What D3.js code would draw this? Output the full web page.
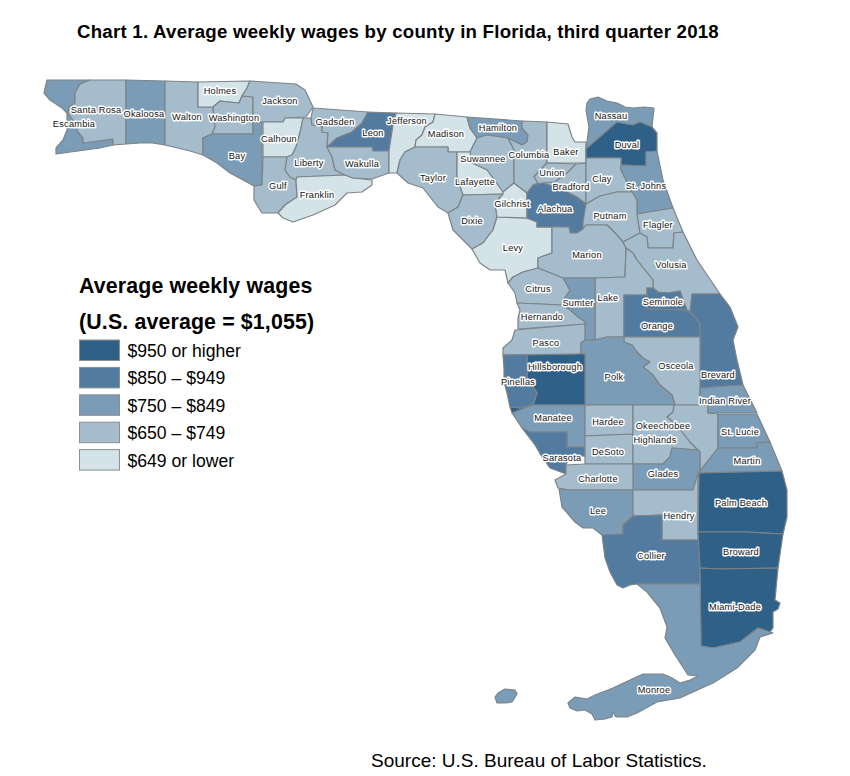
<!DOCTYPE html>
<html>
<head>
<meta charset="utf-8">
<script src="https://cdn.jsdelivr.net/npm/d3@7"></script>
<style>
  body { margin: 0; background: #fff; }
  text { font-family: "Liberation Sans", Arial, sans-serif; fill: #000; }
  .county { stroke: #7d8488; stroke-width: 1.2; stroke-linejoin: round; }
  .county-label { font-size: 9.2px; letter-spacing: 0.25px; text-anchor: middle; dominant-baseline: central;
    stroke: #fff; stroke-width: 2.8; stroke-linejoin: round; paint-order: stroke; fill: #111; }
</style>
</head>
<body>
<script>
const width = 850;
const height = 776;

// wage bands, darkest first
const bandLabels = ['$950 or higher', '$850 \u2013 $949', '$750 \u2013 $849', '$650 \u2013 $749', '$649 or lower'];
const bandColors = ['#2e6088', '#537b9f', '#7b9cb7', '#a4bccc', '#d3e3e8'];

const countyNames = [
  'Escambia', 'Santa Rosa', 'Okaloosa', 'Walton', 'Holmes', 'Washington', 'Bay', 'Jackson', 'Calhoun', 'Gulf',
  'Liberty', 'Franklin', 'Gadsden', 'Leon', 'Wakulla', 'Jefferson', 'Madison', 'Taylor', 'Hamilton', 'Suwannee',
  'Lafayette', 'Dixie', 'Levy', 'Gilchrist', 'Columbia', 'Baker', 'Union', 'Bradford', 'Nassau', 'Duval',
  'Clay', 'St. Johns', 'Alachua', 'Putnam', 'Flagler', 'Marion', 'Volusia', 'Lake', 'Citrus', 'Sumter',
  'Hernando', 'Pasco', 'Seminole', 'Orange', 'Brevard', 'Osceola', 'Polk', 'Hillsborough', 'Pinellas', 'Manatee',
  'Sarasota', 'Hardee', 'DeSoto', 'Highlands', 'Okeechobee', 'Indian River', 'St. Lucie', 'Martin', 'Glades', 'Charlotte',
  'Lee', 'Hendry', 'Collier', 'Palm Beach', 'Broward', 'Miami-Dade', 'Monroe'
];

// band index per county, same order as countyNames
const countyBands = [
  2, 3, 2, 3, 4, 3, 2, 3, 4, 3,
  3, 4, 3, 1, 3, 4, 4, 3, 2, 3,
  4, 3, 4, 4, 3, 4, 3, 3, 2, 0,
  3, 2, 1, 3, 3, 3, 3, 3, 3, 2,
  3, 3, 1, 1, 1, 3, 2, 0, 1, 2,
  1, 3, 3, 3, 3, 2, 2, 2, 2, 3,
  2, 3, 1, 0, 0, 0, 2
];

// county outlines, same order as countyNames
const countyOutlines = [
  [[[47,80],[90,80],[80,84],[75,93],[75,103],[69,107],[68,113],[73,120],[78,132],[83,138],[83,143],[113,139],[113,145],[100,148],[56,154],[56,148],[63,140],[67,130],[67,113],[62,108],[50,100],[44,93]]],
  [[[90,80],[126,80],[126,144],[113,145],[113,139],[83,143],[83,138],[78,132],[73,120],[68,113],[69,107],[75,103],[75,93],[80,84]]],
  [[[126,80],[165,81],[165,145],[152,143],[140,143],[126,144]]],
  [[[165,81],[198,82],[198,107],[213,107],[215,127],[212,134],[203,138],[203,155],[190,151],[165,145]]],
  [[[198,82],[250,81],[247,88],[242,96],[239,103],[220,101],[213,107],[198,107]]],
  [[[220,101],[239,103],[242,96],[253,97],[253,134],[213,134],[203,138],[212,134],[215,127],[213,107]]],
  [[[203,138],[213,134],[253,134],[253,122],[262,122],[262,185],[254,186],[243,180],[230,173],[217,163],[203,155]]],
  [[[250,81],[296,84],[305,90],[313,107],[306,117],[285,118],[283,122],[253,122],[253,97],[242,96],[247,88]]],
  [[[263,122],[283,122],[285,118],[303,118],[300,133],[296,147],[292,155],[287,157],[263,157]]],
  [[[263,157],[287,157],[285,170],[290,177],[296,180],[297,197],[285,205],[278,213],[262,213],[254,200],[254,186],[262,185]]],
  [[[303,118],[311,118],[312,125],[322,126],[322,132],[328,133],[327,147],[332,157],[335,170],[345,175],[297,177],[296,180],[290,177],[285,170],[287,157],[292,155],[296,147],[300,133]]],
  [[[297,177],[345,175],[353,178],[372,180],[372,185],[362,192],[347,193],[335,205],[313,215],[293,222],[283,218],[278,213],[285,205],[297,197],[296,180]]],
  [[[313,108],[368,112],[362,123],[352,132],[337,138],[327,147],[328,133],[322,132],[322,126],[312,125],[311,118]]],
  [[[368,112],[396,113],[393,125],[389,151],[373,151],[372,147],[327,147],[337,138],[352,132],[362,123]]],
  [[[327,147],[372,147],[373,151],[389,151],[389,173],[372,179],[353,178],[345,175],[335,170],[332,157]]],
  [[[396,113],[435,114],[433,122],[425,127],[422,135],[416,140],[415,147],[405,152],[400,160],[397,173],[389,173],[389,151],[393,125]]],
  [[[435,114],[467,117],[470,128],[477,138],[470,152],[448,152],[448,147],[415,147],[416,140],[422,135],[425,127],[433,122]]],
  [[[415,147],[448,147],[448,152],[457,152],[457,177],[463,195],[458,207],[448,213],[438,207],[430,197],[423,188],[408,183],[397,173],[400,160],[405,152]]],
  [[[467,117],[522,121],[522,128],[528,135],[527,142],[522,145],[508,138],[487,135],[477,138],[470,128]]],
  [[[477,138],[487,135],[508,138],[514,150],[514,183],[503,192],[487,170],[472,163],[470,152]]],
  [[[457,152],[470,152],[472,163],[487,170],[503,192],[503,194],[463,195],[457,177]]],
  [[[463,195],[503,194],[495,203],[497,217],[493,230],[483,243],[472,249],[463,240],[453,230],[448,213],[458,207]]],
  [[[497,217],[527,218],[537,222],[537,227],[552,227],[552,253],[538,258],[538,268],[523,272],[513,277],[508,283],[505,270],[490,270],[480,263],[472,249],[483,243],[493,230]]],
  [[[503,192],[514,183],[527,193],[527,218],[497,217],[495,203],[503,194]]],
  [[[522,121],[547,122],[547,163],[540,170],[534,177],[538,183],[527,193],[514,183],[514,150],[508,138],[522,145],[527,142],[528,135],[522,128]]],
  [[[547,122],[568,124],[572,137],[575,142],[586,142],[586,163],[547,163]]],
  [[[534,177],[540,170],[547,163],[576,164],[568,172],[555,182],[543,183],[533,185],[538,183]]],
  [[[576,164],[586,163],[586,204],[577,197],[567,192],[555,187],[543,183],[555,182],[568,172]]],
  [[[587,103],[590,99],[598,97],[607,101],[617,103],[625,107],[633,108],[644,107],[654,108],[652,127],[640,122],[633,125],[617,122],[586,149],[589,127],[586,110]]],
  [[[586,149],[617,122],[626,124],[633,125],[640,122],[652,127],[657,133],[657,151],[646,152],[646,166],[621,165],[621,158],[586,158]]],
  [[[586,158],[621,158],[621,170],[625,178],[632,192],[617,192],[600,196],[586,204]]],
  [[[621,165],[646,166],[646,152],[657,151],[663,180],[673,208],[637,214],[637,200],[632,192],[625,178],[621,170]]],
  [[[527,193],[533,185],[543,183],[555,187],[567,192],[577,197],[586,204],[583,222],[583,229],[577,233],[570,233],[569,227],[537,227],[537,222],[527,218]]],
  [[[586,204],[600,196],[617,192],[632,192],[637,200],[637,214],[640,233],[623,242],[615,233],[607,225],[586,225],[583,229],[583,222]]],
  [[[637,214],[673,208],[683,232],[674,233],[673,248],[648,248],[647,237],[640,233]]],
  [[[552,227],[569,227],[570,233],[577,233],[583,229],[586,225],[607,225],[615,233],[623,242],[626,248],[625,277],[595,278],[563,278],[538,268],[538,258],[552,253]]],
  [[[623,242],[640,233],[647,237],[648,248],[673,248],[674,233],[683,232],[697,260],[720,294],[692,294],[690,312],[687,310],[683,300],[680,291],[668,293],[658,292],[653,288],[653,280],[645,270],[637,260],[633,253],[626,248]]],
  [[[626,248],[633,253],[637,260],[645,270],[653,280],[653,288],[647,288],[647,295],[624,295],[624,337],[607,337],[595,340],[595,278],[625,277]]],
  [[[508,283],[513,277],[523,272],[538,268],[563,278],[570,290],[565,298],[562,305],[517,303],[515,293]]],
  [[[563,278],[595,278],[595,340],[585,340],[585,322],[578,317],[570,310],[562,305],[565,298],[570,290]]],
  [[[517,303],[562,305],[570,310],[578,317],[585,322],[585,324],[518,329],[518,318],[520,310]]],
  [[[515,330],[585,324],[585,340],[581,343],[581,354],[503,355],[503,348],[512,340]]],
  [[[647,295],[647,288],[653,288],[658,292],[668,293],[680,291],[683,300],[687,310],[647,309]]],
  [[[624,295],[647,295],[647,309],[687,310],[693,315],[700,323],[700,337],[624,337]]],
  [[[692,294],[720,294],[730,307],[738,327],[733,340],[737,360],[743,385],[700,388],[700,323],[693,315],[690,312]]],
  [[[624,337],[700,337],[700,405],[675,405],[672,395],[660,385],[653,375],[643,367],[650,362],[643,358],[637,352],[632,345],[624,342]]],
  [[[581,343],[585,340],[595,340],[607,337],[624,337],[624,342],[632,345],[637,352],[643,358],[650,362],[643,367],[653,375],[660,385],[672,395],[675,405],[585,405],[585,354],[581,354]]],
  [[[527,355],[581,354],[585,354],[585,405],[533,405],[537,393],[527,377]],
   [[510,407],[520,408],[533,405],[512,413]]],
  [[[503,355],[527,355],[527,377],[537,393],[533,405],[520,408],[510,407],[507,393],[504,382],[504,368]]],
  [[[512,413],[533,405],[585,405],[585,447],[567,447],[567,432],[530,432],[522,428]]],
  [[[522,428],[530,432],[567,432],[567,447],[585,447],[585,456],[569,457],[566,465],[566,474],[550,468],[542,457],[535,445]]],
  [[[585,405],[633,405],[633,434],[585,436]]],
  [[[585,436],[633,434],[633,464],[585,464]]],
  [[[633,405],[674,405],[673,412],[667,417],[677,425],[690,442],[698,450],[672,448],[670,457],[663,464],[633,464]]],
  [[[674,405],[708,405],[708,413],[718,414],[718,448],[700,471],[700,452],[698,450],[690,442],[677,425],[667,417],[673,412]]],
  [[[700,388],[743,385],[757,413],[708,413],[708,405],[700,405]]],
  [[[718,414],[757,414],[770,442],[757,443],[757,448],[718,448]]],
  [[[700,471],[718,448],[757,448],[757,443],[770,442],[782,471],[699,473]]],
  [[[633,464],[663,464],[670,457],[672,448],[698,450],[700,452],[700,471],[693,490],[633,490]]],
  [[[566,465],[585,464],[633,464],[633,490],[570,490],[558,488],[555,480],[566,474]]],
  [[[559,489],[570,490],[633,490],[633,516],[623,525],[623,534],[602,535],[593,528],[583,528],[575,522],[562,507]]],
  [[[633,490],[693,490],[698,473],[698,540],[662,540],[662,515],[633,516]]],
  [[[602,535],[623,534],[623,525],[633,516],[662,515],[662,540],[700,540],[700,584],[637,584],[630,585],[623,588],[617,585],[610,572],[605,558]]],
  [[[699,473],[782,471],[787,490],[787,517],[783,534],[747,532],[698,532]]],
  [[[698,532],[747,532],[783,534],[778,568],[718,569],[700,568]]],
  [[[700,568],[718,569],[778,568],[775,600],[780,603],[778,609],[773,612],[773,628],[770,632],[758,628],[740,642],[713,648],[701,646]]],
  [[[637,584],[700,584],[701,646],[713,648],[740,642],[758,628],[773,633],[760,637],[755,650],[737,668],[713,683],[693,692],[680,698],[657,702],[637,713],[627,717],[616,717],[613,712],[612,717],[605,719],[595,720],[592,714],[585,710],[577,711],[570,708],[568,703],[575,697],[587,699],[595,695],[613,688],[630,680],[643,674],[663,674],[672,678],[680,683],[690,680],[698,676],[688,675],[675,655],[665,638],[667,627],[660,608],[647,592]],
   [[495,697],[498,693],[505,689],[515,690],[517,694],[512,702],[505,703],[497,703]]]
];

// label centres in page pixels, same order as countyNames
const labelX = [
  74, 96, 144, 187, 220, 234, 237, 280, 279, 278,
  309, 317, 335, 373, 362, 407, 446, 433, 498, 483,
  475, 472, 513, 512, 529, 566, 552, 571, 611, 627,
  602, 646, 555, 610, 658, 587, 671, 608, 538, 578,
  542, 546, 663, 657, 718, 676, 614, 555, 518, 553,
  562, 608, 608, 655, 663, 725, 740, 747, 663, 598,
  598, 679, 651, 741, 741, 735, 654
];
const labelY = [
  124, 110, 114, 117, 91, 118, 156, 101, 139, 186,
  163, 195, 122, 133, 164, 121, 134, 178, 128, 159,
  182, 221, 248, 204, 155, 152, 173, 187, 116, 145,
  179, 186, 209, 216, 225, 255, 265, 298, 289, 303,
  317, 343, 302, 326, 375, 366, 377, 367, 382, 418,
  458, 422, 452, 440, 426, 401, 432, 461, 474, 479,
  511, 516, 556, 503, 552, 607, 690
];

const svg = d3.select('body').append('svg')
  .attr('width', width)
  .attr('height', height);

// outlines are already in page pixels so the projection does nothing
const path = d3.geoPath(d3.geoIdentity());
const bandColor = d3.scaleOrdinal(d3.range(bandLabels.length), bandColors);

const counties = countyNames.map((name, i) => ({
  type: 'Feature',
  properties: { name: name, band: countyBands[i], lx: labelX[i], ly: labelY[i] },
  geometry: {
    type: 'MultiPolygon',
    coordinates: countyOutlines[i].map(ring => [ring.concat([ring[0]])])
  }
}));

svg.append('g').selectAll('path')
  .data(counties)
  .join('path')
  .attr('class', 'county')
  .attr('d', path)
  .attr('fill', d => bandColor(d.properties.band));

svg.append('g').selectAll('text')
  .data(counties)
  .join('text')
  .attr('class', 'county-label')
  .attr('x', d => d.properties.lx)
  .attr('y', d => d.properties.ly)
  .text(d => d.properties.name);

svg.append('text')
  .attr('x', 77)
  .attr('y', 38)
  .style('font-size', '18.67px')
  .style('letter-spacing', '0.23px')
  .style('font-weight', 'bold')
  .text('Chart 1. Average weekly wages by county in Florida, third quarter 2018');

// legend
svg.append('text')
  .attr('x', 79)
  .attr('y', 293)
  .style('font-size', '21.33px')
  .style('letter-spacing', '0.15px')
  .style('font-weight', 'bold')
  .text('Average weekly wages');

svg.append('text')
  .attr('x', 79)
  .attr('y', 329)
  .style('font-size', '21.33px')
  .style('letter-spacing', '0.15px')
  .style('font-weight', 'bold')
  .text('(U.S. average = $1,055)');

const legendRow = d3.scaleBand()
  .domain(bandLabels)
  .range([340, 477]);

const legend = svg.append('g').selectAll('g')
  .data(bandLabels)
  .join('g')
  .attr('transform', d => `translate(79.5,${legendRow(d)})`);

legend.append('rect')
  .attr('width', 40)
  .attr('height', 20.5)
  .attr('fill', (d, i) => bandColors[i])
  .attr('stroke', '#8a8f92');

legend.append('text')
  .attr('x', 48)
  .attr('y', 17)
  .style('font-size', '17.6px')
  .text(d => d);

svg.append('text')
  .attr('x', 371)
  .attr('y', 767)
  .style('font-size', '19px')
  .text('Source: U.S. Bureau of Labor Statistics.');
</script>
</body>
</html>
